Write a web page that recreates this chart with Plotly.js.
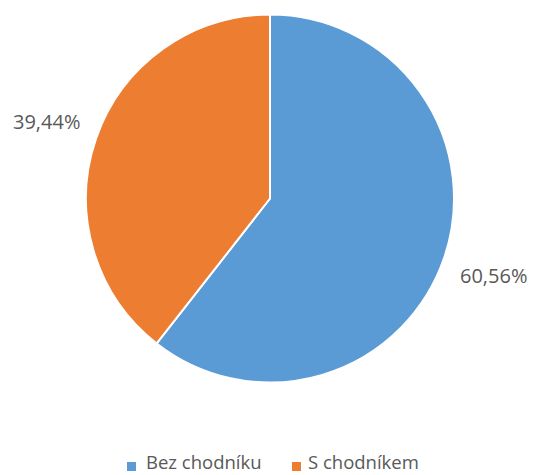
<!DOCTYPE html>
<html>
<head>
<meta charset="utf-8">
<script src="https://cdn.plot.ly/plotly-3.0.1.min.js"></script>
<style>html,body{margin:0;padding:0;background:#fff}#chart{width:533px;height:475px}</style>
</head>
<body>
<div id="chart"></div>
<script>
const categories = ["Bez chodníku", "S chodníkem"];
const values = [60.56, 39.44];
const colors = ["#5B9BD5", "#ED7D31"];

const W = 533, H = 475;
const cx = 270, cy = 198.5, R = 184, labelDist = 236;
const textColor = "#595959";
const fontFamily = "Open Sans, sans-serif";

const total = values.reduce((a, b) => a + b, 0);
const annotations = [];
const shapes = [];
let start = 90;
values.forEach((v, i) => {
  const sweep = v / total * 360;
  const mid = (start - sweep / 2) * Math.PI / 180;
  start -= sweep;
  const px = cx + labelDist * Math.cos(mid);
  const py = cy - labelDist * Math.sin(mid);
  annotations.push({
    x: px / W, y: 1 - py / H, xref: "paper", yref: "paper",
    text: v.toFixed(2).replace(".", ",") + "%",
    showarrow: false, xanchor: "center", yanchor: "middle",
    font: {family: fontFamily, size: 20, color: textColor}
  });
});

// legend (square swatch + label), laid out like the reference
const legendSwatchX = [127, 292];
const legendTextX = [145, 307];
const swatchY = 466.5, sw = 9;
categories.forEach((c, i) => {
  shapes.push({
    type: "rect", xref: "paper", yref: "paper",
    x0: legendSwatchX[i] / W, x1: (legendSwatchX[i] + sw) / W,
    y0: 1 - (swatchY + sw / 2) / H, y1: 1 - (swatchY - sw / 2) / H,
    fillcolor: colors[i], line: {width: 0}
  });
  annotations.push({
    x: legendTextX[i] / W, y: 0, xref: "paper", yref: "paper",
    text: c, showarrow: false, xanchor: "left", yanchor: "bottom",
    borderpad: 0,
    font: {family: fontFamily, size: 18.5, color: textColor}
  });
});

const trace = {
  type: "pie",
  labels: categories,
  values: values,
  sort: false,
  direction: "clockwise",
  rotation: 0,
  textinfo: "none",
  hoverinfo: "label+percent",
  marker: {colors: colors, line: {color: "#ffffff", width: 2}},
  domain: {x: [(cx - R) / W, (cx + R) / W], y: [1 - (cy + R) / H, 1 - (cy - R) / H]}
};

const layout = {
  width: W, height: H,
  margin: {l: 0, r: 0, t: 0, b: 0},
  paper_bgcolor: "#ffffff",
  showlegend: false,
  annotations: annotations,
  shapes: shapes
};

Plotly.newPlot("chart", [trace], layout, {displayModeBar: false, staticPlot: true});
</script>
</body>
</html>
